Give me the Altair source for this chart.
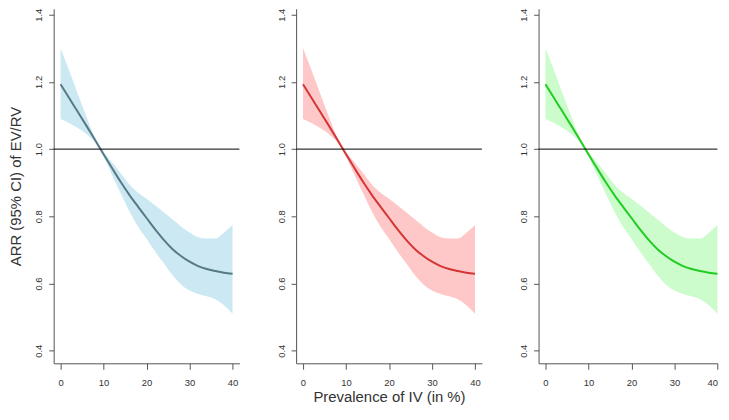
import altair as alt
import pandas as pd

# Prevalence of IV (in %)
x_vals = [0, 2, 4, 6, 8, 10, 12, 14, 16, 18, 20, 22, 24, 26, 28, 30, 32, 34, 36, 38, 40]
# fitted ARR
fit_vals = [1.193, 1.152, 1.111, 1.070, 1.028, 0.985, 0.943, 0.902, 0.864, 0.829, 0.795,
            0.761, 0.730, 0.703, 0.682, 0.665, 0.652, 0.643, 0.637, 0.632, 0.629]
# 95% CI bounds
lower_vals = [1.090, 1.078, 1.063, 1.045, 1.020, 0.978, 0.922, 0.868, 0.815, 0.770, 0.733,
              0.695, 0.660, 0.625, 0.597, 0.579, 0.569, 0.562, 0.553, 0.535, 0.510]
upper_vals = [1.300, 1.234, 1.165, 1.097, 1.034, 0.992, 0.960, 0.928, 0.895, 0.871, 0.852,
              0.832, 0.812, 0.791, 0.770, 0.752, 0.738, 0.734, 0.734, 0.751, 0.774]

x_ticks = [0, 10, 20, 30, 40]
y_ticks = [0.4, 0.6, 0.8, 1.0, 1.2, 1.4]
ref_value = 1.0

band_colors = ["#CCE9F3", "#FFC8C8", "#CCFBCC"]
line_colors = ["#557A85", "#D43535", "#22CC22"]
y_title = "ARR (95% CI) of EV/RV"
x_title = "Prevalence of IV (in %)"

FONT = "Liberation Sans"
PX_PER_UNIT = 4.33
H = 357
X_LO = -1.6
X_HI = [41.6, 41.6, 40.0]
YDOM = [0.3625, 1.4177]
PITCH = 243.2

df = pd.DataFrame({"x": x_vals, "fit": fit_vals, "lo": lower_vals, "hi": upper_vals})


def panel(i):
    w = (X_HI[i] - X_LO) * PX_PER_UNIT
    xaxis = alt.Axis(values=x_ticks, format="d", grid=False, labelFont=FONT, labelFontSize=9.5,
                     labelColor="#333", tickSize=6, tickColor="#555", domainColor="#555",
                     labelPadding=8, labelFlush=(1 if i == 2 else False),
                     title=x_title if i == 1 else None,
                     titleFont=FONT, titleFontSize=15, titleFontWeight="normal", titleColor="#333",
                     titleBaseline="alphabetic", titleY=38.5)
    yaxis = alt.Axis(values=y_ticks, format=".1f", grid=False, labelFont=FONT, labelFontSize=9.5,
                     labelColor="#333", tickSize=5, tickColor="#555", domainColor="#555",
                     labelAngle=270, labelAlign="center", labelBaseline="alphabetic",
                     labelPadding=7,
                     title=y_title if i == 0 else None,
                     titleFont=FONT, titleFontSize=15, titleFontWeight="normal", titleColor="#333",
                     titleAngle=270, titleAlign="center", titleBaseline="alphabetic",
                     titleX=-33.4, titleY=H / 2)
    xs = alt.Scale(domain=[X_LO, X_HI[i]], nice=False, zero=False)
    ys = alt.Scale(domain=YDOM, nice=False, zero=False)
    base = alt.Chart(df)
    band = base.mark_area(color=band_colors[i], opacity=1, interpolate="monotone").encode(
        x=alt.X("x:Q", scale=xs, axis=xaxis),
        y=alt.Y("lo:Q", scale=ys, axis=yaxis),
        y2="hi:Q",
    )
    line = base.mark_line(color=line_colors[i], strokeWidth=2, interpolate="monotone").encode(
        x=alt.X("x:Q", scale=xs),
        y=alt.Y("fit:Q", scale=ys),
    )
    rule = alt.Chart(pd.DataFrame({"v": [ref_value]})).mark_rule(color="black", strokeWidth=1).encode(
        y=alt.Y("v:Q", scale=ys)
    )
    return alt.layer(band, line, rule).properties(width=w, height=H)


spacing = PITCH - (X_HI[0] - X_LO) * PX_PER_UNIT

chart = alt.hconcat(panel(0), panel(1), panel(2), spacing=spacing, bounds="flush").properties(
    padding={"left": 0, "top": -1.6, "right": -1, "bottom": 0}
).configure_view(stroke=None)

chart.save("out.html", embed_options={"renderer": "svg", "actions": False})
